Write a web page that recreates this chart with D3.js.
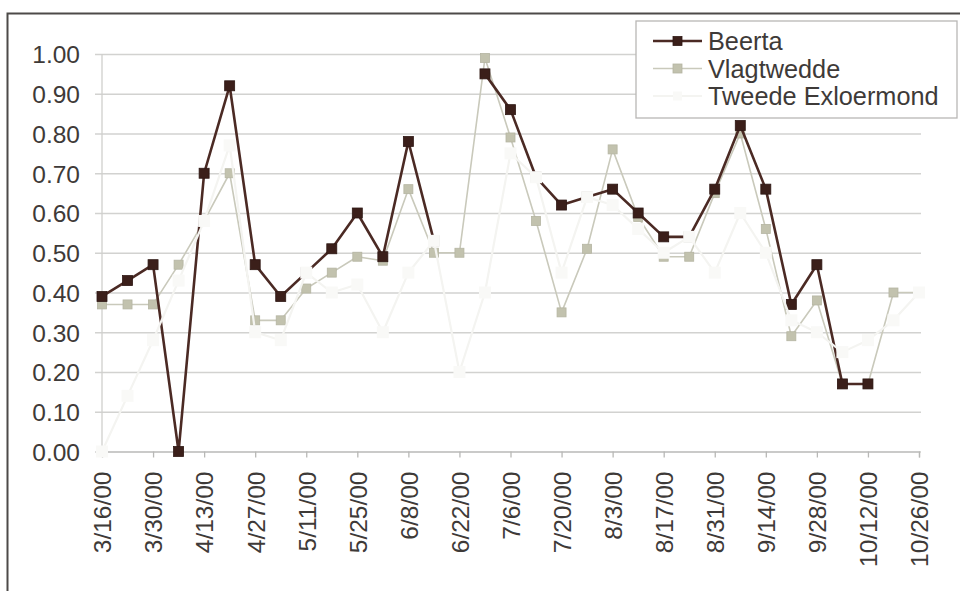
<!DOCTYPE html>
<html>
<head>
<meta charset="utf-8">
<script src="https://cdn.jsdelivr.net/npm/d3@7"></script>
<style>
  html, body { margin: 0; padding: 0; background: #ffffff; }
  svg { display: block; }
  text { font-family: "Liberation Sans", Arial, sans-serif; fill: #3b3836; }
</style>
</head>
<body>
<svg id="chart" width="960" height="591"></svg>
<script>
// Weekly sampling dates
const dates = [
  "3/16/00","3/23/00","3/30/00","4/6/00","4/13/00","4/20/00","4/27/00",
  "5/4/00","5/11/00","5/18/00","5/25/00","6/1/00","6/8/00","6/15/00",
  "6/22/00","6/29/00","7/6/00","7/13/00","7/20/00","7/27/00","8/3/00",
  "8/10/00","8/17/00","8/24/00","8/31/00","9/7/00","9/14/00","9/21/00",
  "9/28/00","10/5/00","10/12/00","10/19/00","10/26/00"
];

// Series values (null = no measurement)
const beerta = [
  0.39, 0.43, 0.47, 0.00, 0.70, 0.92, 0.47,
  0.39, 0.45, 0.51, 0.60, 0.49, 0.78, 0.53,
  null, 0.95, 0.86, 0.69, 0.62, 0.64, 0.66,
  0.60, 0.54, 0.54, 0.66, 0.82, 0.66, 0.37,
  0.47, 0.17, 0.17, null, null
];
const vlagtwedde = [
  0.37, 0.37, 0.37, 0.47, 0.58, 0.70, 0.33,
  0.33, 0.41, 0.45, 0.49, 0.48, 0.66, 0.50,
  0.50, 0.99, 0.79, 0.58, 0.35, 0.51, 0.76,
  0.59, 0.49, 0.49, 0.65, 0.80, 0.56, 0.29,
  0.38, 0.17, 0.17, 0.40, 0.40
];
const tweedeExloermond = [
  0.00, 0.14, 0.28, 0.43, 0.58, 0.77, 0.30,
  0.28, 0.45, 0.40, 0.42, 0.30, 0.45, 0.53,
  0.20, 0.40, 0.75, 0.69, 0.45, 0.64, 0.62,
  0.56, 0.50, 0.54, 0.45, 0.60, 0.50, 0.33,
  0.30, 0.25, 0.28, 0.33, 0.40
];

// Axis labels
const xTickLabels = [
  "3/16/00","3/30/00","4/13/00","4/27/00","5/11/00","5/25/00","6/8/00",
  "6/22/00","7/6/00","7/20/00","8/3/00","8/17/00","8/31/00","9/14/00",
  "9/28/00","10/12/00","10/26/00"
];
const yTickValues = [0, 0.1, 0.2, 0.3, 0.4, 0.5, 0.6, 0.7, 0.8, 0.9, 1.0];

const seriesNames = ["Beerta", "Vlagtwedde", "Tweede Exloermond"];

const parse = d3.timeParse("%m/%d/%y");
const svg = d3.select("#chart");

const x = d3.scaleTime()
  .domain([parse(dates[0]), parse(dates[dates.length - 1])])
  .range([102, 919]);
const y = d3.scaleLinear().domain([0, 1]).range([451.5, 54]);

// Chart frame
svg.append("path")
  .attr("d", "M7.5,600 L7.5,13.5 L970,13.5")
  .attr("fill", "none")
  .attr("stroke", "#4d4a48")
  .attr("stroke-width", 2);

// Horizontal gridlines with left tick stubs
const yAxis = d3.axisLeft(y)
  .tickValues(yTickValues)
  .tickSize(0)
  .tickFormat(d3.format(".2f"));
const gy = svg.append("g").attr("transform", "translate(95,0)").call(yAxis);
gy.select(".domain").remove();
gy.selectAll(".tick line")
  .attr("x1", 0).attr("x2", 826)
  .attr("stroke", "#d2d2d0").attr("stroke-width", 1.3);
gy.selectAll(".tick text")
  .attr("x", -15)
  .attr("dy", "0.36em")
  .style("font-size", "24.5px")
  .style("fill", "#3e3a38");

// Vertical axis line
svg.append("line")
  .attr("x1", 102).attr("x2", 102).attr("y1", 54).attr("y2", 451.5)
  .attr("stroke", "#cfcfcd").attr("stroke-width", 1.3);

// Category axis
const tickDates = xTickLabels.map(parse);
const xAxis = d3.axisBottom(x)
  .tickValues(tickDates)
  .tickSize(6)
  .tickFormat((d, i) => xTickLabels[i]);
const gx = svg.append("g").attr("transform", "translate(0,451.5)").call(xAxis);
gx.select(".domain").attr("stroke", "#c4c4c2").attr("stroke-width", 1.3);
gx.selectAll(".tick line").attr("stroke", "#b8b8b6").attr("stroke-width", 1.3);
gx.selectAll(".tick text")
  .attr("transform", "translate(0,20) rotate(-90)")
  .attr("x", 0).attr("y", 0)
  .attr("dy", "0.36em")
  .attr("text-anchor", "end")
  .style("font-size", "24.5px")
  .style("fill", "#3e3a38");

// Series rendering: Vlagtwedde underneath, Beerta above, the pale
// Tweede Exloermond series on top
const styles = [
  { data: vlagtwedde, line: "#c9c9bb", width: 1.6, fill: "#c2c2ae", stroke: "#b5b5a2", size: 9 },
  { data: beerta, line: "#4b2a24", width: 2.6, fill: "#3b1f1a", stroke: "#2e1814", size: 10 },
  { data: tweedeExloermond, line: "#f4f4f1", width: 2.2, fill: "#f9f9f7", stroke: "none", size: 12 }
];

styles.forEach(s => {
  const pts = dates.map((d, i) => ({ date: parse(d), value: s.data[i] }));
  const line = d3.line()
    .defined(p => p.value !== null)
    .x(p => x(p.date))
    .y(p => y(p.value));
  svg.append("path")
    .datum(pts)
    .attr("d", line)
    .attr("fill", "none")
    .attr("stroke", s.line)
    .attr("stroke-width", s.width)
    .attr("stroke-linejoin", "round");
  svg.append("g").selectAll("rect")
    .data(pts.filter(p => p.value !== null))
    .join("rect")
    .attr("x", p => x(p.date) - s.size / 2)
    .attr("y", p => y(p.value) - s.size / 2)
    .attr("width", s.size)
    .attr("height", s.size)
    .attr("fill", s.fill)
    .attr("stroke", s.stroke)
    .attr("stroke-width", 0.8);
});

// Legend
const legend = svg.append("g");
legend.append("rect")
  .attr("x", 636).attr("y", 21).attr("width", 321).attr("height", 97)
  .attr("fill", "#ffffff")
  .attr("stroke", "#b9b7b5").attr("stroke-width", 1.3);

const legendStyles = [styles[1], styles[0], styles[2]];
seriesNames.forEach((name, i) => {
  const s = legendStyles[i];
  const cy = 41 + i * 27.5;
  legend.append("line")
    .attr("x1", 653).attr("x2", 702).attr("y1", cy).attr("y2", cy)
    .attr("stroke", s.line).attr("stroke-width", s.width);
  legend.append("rect")
    .attr("x", 677.5 - 4.5).attr("y", cy - 4.5)
    .attr("width", 9).attr("height", 9)
    .attr("fill", s.fill).attr("stroke", s.stroke).attr("stroke-width", 0.8);
  legend.append("text")
    .attr("x", 708).attr("y", cy)
    .attr("dy", "0.36em")
    .style("font-size", "25.3px")
    .style("fill", "#3e3a38")
    .text(name);
});
</script>
</body>
</html>
